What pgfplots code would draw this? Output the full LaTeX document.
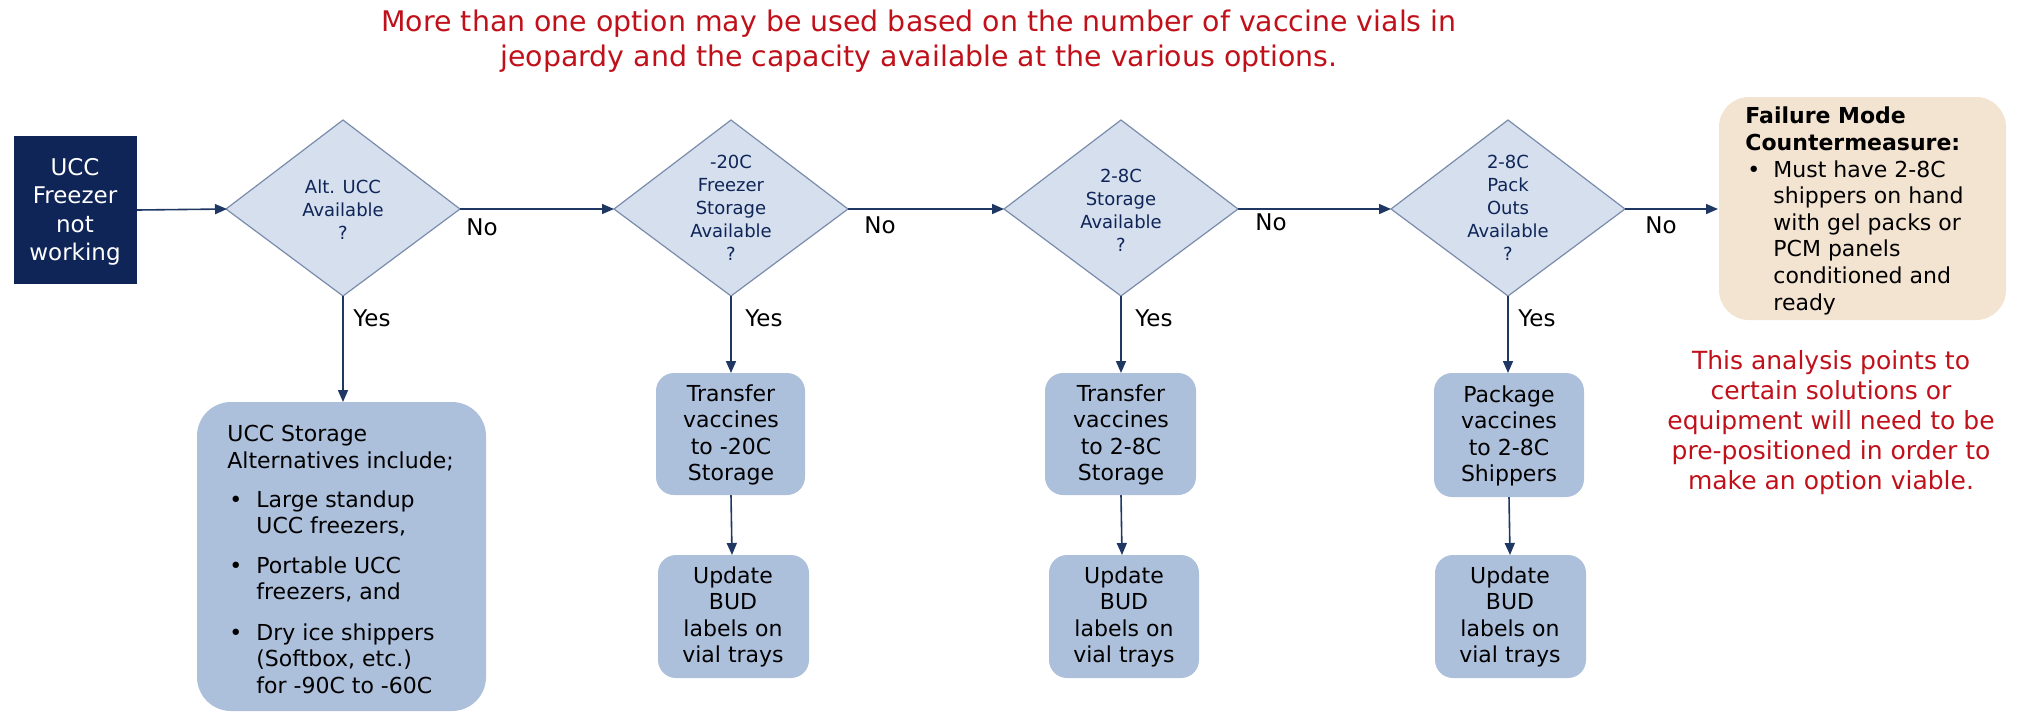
\documentclass[border=0pt]{standalone}
\usepackage{pgfplots}
\pgfplotsset{compat=1.18}
\usepackage{fontspec}
\setmainfont{DejaVu Sans}
\usetikzlibrary{arrows.meta}
\definecolor{navy}{HTML}{0F2557}
\definecolor{dfill}{HTML}{D5DFEE}
\definecolor{dline}{HTML}{7A8CAB}
\definecolor{bfill}{HTML}{ACBFDB}
\definecolor{arr}{HTML}{1F3763}
\definecolor{redt}{HTML}{C0111B}
\definecolor{beige}{HTML}{F3E3D1}
\begin{document}
\begin{tikzpicture}
\begin{axis}[width=1009pt,height=356.5pt,scale only axis,
  xmin=0,xmax=2018,ymin=0,ymax=713,y dir=reverse,hide axis,clip=false]
\path (rel axis cs:0,0) rectangle (rel axis cs:1,1);
% title
\node[align=center,text=redt,font=\fontsize{14.2}{17.8}\selectfont,inner sep=0] at (axis cs:919,41)
  {More than one option may be used based on the number of vaccine vials in\\jeopardy and the capacity available at the various options.};
% start box
\fill[navy] (axis cs:14,136) rectangle (axis cs:137,284);
\node[align=center,text=white,font=\fontsize{11.5}{14.25}\selectfont,inner sep=0] at (axis cs:75,212)
  {UCC\\Freezer\\not\\working};
% diamonds
\foreach \cx in {343,731,1121,1508}{
  \edef\temp{\noexpand\draw[fill=dfill,draw=dline,line width=0.6pt] (axis cs:\cx,120) -- (axis cs:\cx+117,209) -- (axis cs:\cx,296) -- (axis cs:\cx-117,209) -- cycle;}
  \temp
}
\node[align=center,text=navy,font=\fontsize{9}{11.5}\selectfont,inner sep=0] at (axis cs:343,210) {Alt. UCC\\Available\\?};
\node[align=center,text=navy,font=\fontsize{9}{11.5}\selectfont,inner sep=0] at (axis cs:731,208) {-20C\\Freezer\\Storage\\Available\\?};
\node[align=center,text=navy,font=\fontsize{9}{11.5}\selectfont,inner sep=0] at (axis cs:1121,210) {2-8C\\Storage\\Available\\?};
\node[align=center,text=navy,font=\fontsize{9}{11.5}\selectfont,inner sep=0] at (axis cs:1508,208) {2-8C\\Pack\\Outs\\Available\\?};
% horizontal arrows
\draw[arr,line width=0.8pt,-{Triangle[length=6pt,width=5pt]}] (axis cs:137,210) -- (axis cs:227,209);
\draw[arr,line width=0.8pt,-{Triangle[length=6pt,width=5pt]}] (axis cs:460,209) -- (axis cs:614,209);
\draw[arr,line width=0.8pt,-{Triangle[length=6pt,width=5pt]}] (axis cs:848,209) -- (axis cs:1004,209);
\draw[arr,line width=0.8pt,-{Triangle[length=6pt,width=5pt]}] (axis cs:1238,209) -- (axis cs:1391,209);
\draw[arr,line width=0.8pt,-{Triangle[length=6pt,width=5pt]}] (axis cs:1625,209) -- (axis cs:1718,209);
% vertical arrows
\draw[arr,line width=0.8pt,-{Triangle[length=6pt,width=5pt]}] (axis cs:343,296) -- (axis cs:343,402);
\draw[arr,line width=0.8pt,-{Triangle[length=6pt,width=5pt]}] (axis cs:731,296) -- (axis cs:731,373);
\draw[arr,line width=0.8pt,-{Triangle[length=6pt,width=5pt]}] (axis cs:1121,296) -- (axis cs:1121,373);
\draw[arr,line width=0.8pt,-{Triangle[length=6pt,width=5pt]}] (axis cs:1508,296) -- (axis cs:1508,373);
\draw[arr,line width=0.8pt,-{Triangle[length=6pt,width=5pt]}] (axis cs:731,495) -- (axis cs:732,555);
\draw[arr,line width=0.8pt,-{Triangle[length=6pt,width=5pt]}] (axis cs:1121,495) -- (axis cs:1122,555);
\draw[arr,line width=0.8pt,-{Triangle[length=6pt,width=5pt]}] (axis cs:1509,497) -- (axis cs:1510,555);
% No / Yes labels
\foreach \x/\y in {482/227,880/225,1271/222,1661/225}{
  \edef\temp{\noexpand\node[font=\noexpand\fontsize{11.5}{14}\noexpand\selectfont,inner sep=0] at (axis cs:\x,\y) {No};}
  \temp
}
\foreach \x in {353,745,1135,1518}{
  \edef\temp{\noexpand\node[anchor=west,font=\noexpand\fontsize{11.5}{14}\noexpand\selectfont,inner sep=0] at (axis cs:\x,318) {Yes};}
  \temp
}
% big box 1
\fill[bfill,rounded corners=17pt] (axis cs:197,402) rectangle (axis cs:486,711);
\foreach \y/\t in {441/{UCC Storage},468/{Alternatives include;}}{
  \edef\temp{\noexpand\node[anchor=base west,font=\noexpand\fontsize{11}{13}\noexpand\selectfont,inner sep=0] at (axis cs:227,\y) {\t};}
  \temp
}
\foreach \y/\t in {507/{Large standup},533.5/{UCC freezers,},573/{Portable UCC},599.5/{freezers, and},640/{Dry ice shippers},666.5/{(Softbox, etc.)},693/{for -90C to -60C}}{
  \edef\temp{\noexpand\node[anchor=base west,font=\noexpand\fontsize{11}{13}\noexpand\selectfont,inner sep=0] at (axis cs:256,\y) {\t};}
  \temp
}
\foreach \y in {507,573,640}{
  \edef\temp{\noexpand\node[anchor=base west,font=\noexpand\fontsize{11}{13}\noexpand\selectfont,inner sep=0] at (axis cs:229,\y) {•};}
  \temp
}
% small boxes
\fill[bfill,rounded corners=9pt] (axis cs:656,373) rectangle (axis cs:805,495);
\fill[bfill,rounded corners=9pt] (axis cs:658,555) rectangle (axis cs:809,678);
\fill[bfill,rounded corners=9pt] (axis cs:1045,373) rectangle (axis cs:1196,495);
\fill[bfill,rounded corners=9pt] (axis cs:1049,555) rectangle (axis cs:1199,678);
\fill[bfill,rounded corners=9pt] (axis cs:1434,373) rectangle (axis cs:1584,497);
\fill[bfill,rounded corners=9pt] (axis cs:1435,555) rectangle (axis cs:1586,678);
\node[align=center,font=\fontsize{11}{13.3}\selectfont,inner sep=0] at (axis cs:731,435) {Transfer\\vaccines\\to -20C\\Storage};
\node[align=center,font=\fontsize{11}{13.3}\selectfont,inner sep=0] at (axis cs:1121,435) {Transfer\\vaccines\\to 2-8C\\Storage};
\node[align=center,font=\fontsize{11}{13.3}\selectfont,inner sep=0] at (axis cs:1509,436) {Package\\vaccines\\to 2-8C\\Shippers};
\foreach \x in {733,1124,1510}{
  \edef\temp{\noexpand\node[align=center,font=\noexpand\fontsize{11}{13.3}\noexpand\selectfont,inner sep=0] at (axis cs:\x,617) {Update\noexpand\\BUD\noexpand\\labels on\noexpand\\vial trays};}
  \temp
}
% failure box
\fill[beige,rounded corners=15pt] (axis cs:1719,97) rectangle (axis cs:2006,320);
\node[anchor=base west,font=\bfseries\fontsize{11}{13}\selectfont,inner sep=0] at (axis cs:1745,123) {Failure Mode};
\node[anchor=base west,font=\bfseries\fontsize{11}{13}\selectfont,inner sep=0] at (axis cs:1745,150) {Countermeasure:};
\node[anchor=base west,font=\fontsize{11}{13}\selectfont,inner sep=0] at (axis cs:1747,177) {•};
\foreach \y/\t in {177/{Must have 2-8C},203.5/{shippers on hand},230/{with gel packs or},256.5/{PCM panels},283/{conditioned and},310/{ready}}{
  \edef\temp{\noexpand\node[anchor=base west,font=\noexpand\fontsize{11}{13}\noexpand\selectfont,inner sep=0] at (axis cs:1773,\y) {\t};}
  \temp
}
% red note
\node[align=center,text=redt,font=\fontsize{12.5}{15}\selectfont,inner sep=0] at (axis cs:1831,423)
  {This analysis points to\\certain solutions or\\equipment will need to be\\pre-positioned in order to\\make an option viable.};
\end{axis}
\end{tikzpicture}
\end{document}
